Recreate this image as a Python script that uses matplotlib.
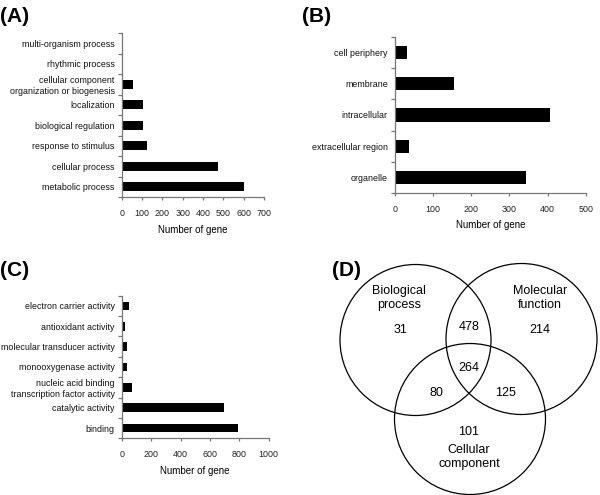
import matplotlib
matplotlib.use("Agg")
import matplotlib.pyplot as plt
from matplotlib.patches import Circle

plt.rcParams['font.family'] = ['Liberation Sans', 'DejaVu Sans']

# GO category counts (top to bottom as in the figure)
bp_terms = ['multi-organism process', 'rhythmic process',
            'cellular component\norganization or biogenesis', 'localization',
            'biological regulation', 'response to stimulus',
            'cellular process', 'metabolic process']
bp_counts = [7, 1, 57, 105, 105, 122, 475, 600]

cc_terms = ['cell periphery', 'membrane', 'intracellular',
            'extracellular region', 'organelle']
cc_counts = [33, 156, 407, 38, 342]

mf_terms = ['electron carrier activity', 'antioxidant activity',
            'molecular transducer activity', 'monooxygenase activity',
            'nucleic acid binding\ntranscription factor activity',
            'catalytic activity', 'binding']
mf_counts = [52, 22, 36, 36, 68, 698, 791]

# Venn region counts
venn_labels = ['31', '214', '101', '478', '80', '125', '264']

fig = plt.figure(figsize=(6, 4.95), dpi=100)
fig.patch.set_facecolor('white')


def bar_panel(rect, terms, counts, xmax, step, bar_h=0.42):
    ax = fig.add_axes(rect)
    n = len(terms)
    pos = [n - 1 - i for i in range(n)]
    ax.barh(pos, counts, height=bar_h, color='black', edgecolor='none')
    ax.set_xlim(0, xmax)
    ax.set_ylim(-0.5, n - 0.5)
    ax.set_xticks(range(0, xmax + 1, step))
    ax.set_yticks([k - 0.5 for k in range(n + 1)])
    ax.set_yticklabels([])
    ax.set_yticks(pos, minor=True)
    ax.set_yticklabels(terms, minor=True, fontsize=6.4, ha='right', color='#111111')
    ax.tick_params(axis='y', which='minor', length=0, pad=5)
    ax.tick_params(axis='y', which='major', length=3, color='#777777', width=0.9)
    ax.tick_params(axis='x', length=2.5, color='#777777', width=0.9, labelsize=6.4, pad=6,
                   labelcolor='#222222')
    for s in ['top', 'right']:
        ax.spines[s].set_visible(False)
    for s in ['left', 'bottom']:
        ax.spines[s].set_color('#777777')
        ax.spines[s].set_linewidth(0.9)
    ax.set_xlabel('Number of gene', fontsize=7, labelpad=5)
    return ax


W, H = 600.0, 495.0


def rect_px(x0, y0, x1, y1):
    return [x0 / W, 1 - y1 / H, (x1 - x0) / W, (y1 - y0) / H]


bar_panel(rect_px(121.7, 33, 264, 197), bp_terms, bp_counts, 700, 100)
bar_panel(rect_px(394.7, 37.3, 586, 192.7), cc_terms, cc_counts, 500, 100)
bar_panel(rect_px(121.7, 295.7, 268.7, 438.3), mf_terms, mf_counts, 1000, 200)

# overlay axes in pixel coordinates for Venn and panel letters
ov = fig.add_axes([0, 0, 1, 1])
ov.set_xlim(0, W)
ov.set_ylim(H, 0)
ov.axis('off')

for cx, cy in [(415.5, 340), (521.5, 339), (470, 419)]:
    ov.add_patch(Circle((cx, cy), 75.5, fill=False, ec='black', lw=0.9))

venn_pos = [(400, 330), (540, 330), (469, 432), (469, 327),
            (436, 393), (505, 393), (469, 368)]
for lab, (x, y) in zip(venn_labels, venn_pos):
    ov.text(x, y, lab, fontsize=9, ha='center', va='center')
ov.text(399, 298, 'Biological\nprocess', fontsize=9, ha='center', va='center', linespacing=1.15)
ov.text(540, 298, 'Molecular\nfunction', fontsize=9, ha='center', va='center', linespacing=1.15)
ov.text(469, 457, 'Cellular\ncomponent', fontsize=9, ha='center', va='center', linespacing=1.15)

for lab, x, y in [('(A)', 0, 16), ('(B)', 302, 16), ('(C)', 0, 271), ('(D)', 332, 271)]:
    ov.text(x, y, lab, fontsize=15, fontweight='bold', ha='left', va='center')

fig.savefig('out.png', dpi=100, facecolor='white')
